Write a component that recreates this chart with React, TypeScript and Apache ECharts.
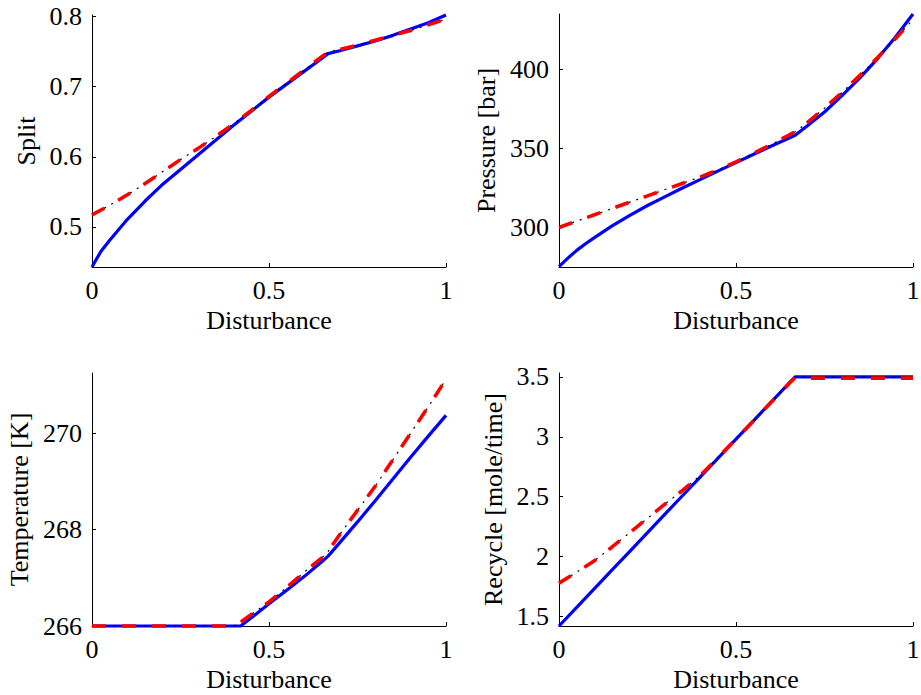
import React, { useEffect, useRef } from "react";
import * as echarts from "echarts";

// ---------- data ----------
const xAxisTicks = [0, 0.5, 1];

// Split
const splitX = [0, 0.01, 0.025, 0.05, 0.1, 0.15, 0.2, 0.25, 0.3, 0.35, 0.4, 0.45, 0.5, 0.55, 0.6, 0.65, 0.667, 0.7, 0.75, 0.8, 0.85, 0.9, 0.95, 1];
const splitBlue = [0.443, 0.452, 0.465, 0.481, 0.511, 0.537, 0.561, 0.582, 0.603, 0.624, 0.645, 0.665, 0.685, 0.7035, 0.722, 0.7405, 0.747, 0.751, 0.758, 0.765, 0.773, 0.782, 0.791, 0.802];
const splitRed = [0.517, 0.520, 0.524, 0.531, 0.546, 0.562, 0.579, 0.596, 0.612, 0.629, 0.647, 0.666, 0.686, 0.705, 0.724, 0.743, 0.749, 0.753, 0.759, 0.766, 0.773, 0.780, 0.788, 0.796];
const splitBlack = splitRed;
const splitTicks = [0.5, 0.6, 0.7, 0.8];

// Pressure
const presX = [0, 0.025, 0.05, 0.075, 0.1, 0.15, 0.2, 0.25, 0.3, 0.35, 0.4, 0.45, 0.5, 0.55, 0.6, 0.65, 0.667, 0.7, 0.75, 0.8, 0.85, 0.9, 0.95, 1];
const presBlue = [275.2, 280.6, 285.5, 289.7, 293.6, 301.0, 307.7, 313.9, 319.5, 325.1, 330.4, 335.8, 341.0, 346.3, 351.5, 356.6, 358.3, 364.0, 373.0, 383.5, 394.6, 406.8, 420.3, 435.0];
const presRed = [300.0, 302.0, 304.0, 306.0, 308.0, 312.0, 316.0, 320.0, 324.0, 328.0, 332.0, 336.5, 341.5, 347.0, 352.5, 358.5, 360.5, 366.0, 375.5, 385.5, 396.2, 407.5, 419.3, 431.5];
const presBlack = presRed;
const presTicks = [300, 350, 400];

// Temperature
const tempX = [0, 0.1, 0.2, 0.3, 0.4, 0.41, 0.42, 0.45, 0.5, 0.55, 0.6, 0.65, 0.667, 0.7, 0.75, 0.8, 0.85, 0.9, 0.95, 1];
const tempBlue = [266, 266, 266, 266, 266, 266, 266.0, 266.17, 266.46, 266.74, 267.03, 267.34, 267.45, 267.73, 268.16, 268.6, 269.05, 269.5, 269.94, 270.37];
const tempRed = [266, 266, 266, 266, 266, 266.03, 266.08, 266.24, 266.50, 266.80, 267.12, 267.42, 267.55, 267.9, 268.4, 268.9, 269.45, 270.0, 270.55, 271.12];
const tempBlack = tempRed;
const tempTicks = [266, 268, 270];

// Recycle
const recX = [0, 0.05, 0.1, 0.15, 0.2, 0.25, 0.3, 0.35, 0.4, 0.45, 0.5, 0.55, 0.6, 0.65, 0.667, 0.7, 0.8, 0.9, 1];
const recBlue = [1.42, 1.576, 1.732, 1.888, 2.044, 2.2, 2.356, 2.512, 2.668, 2.824, 2.98, 3.136, 3.292, 3.448, 3.5, 3.5, 3.5, 3.5, 3.5];
const recRed = [1.778, 1.87, 1.965, 2.08, 2.2, 2.32, 2.44, 2.555, 2.68, 2.83, 2.98, 3.135, 3.29, 3.445, 3.495, 3.49, 3.49, 3.49, 3.49];
const recBlack = [1.778, 1.87, 1.965, 2.08, 2.2, 2.32, 2.44, 2.555, 2.68, 2.83, 2.98, 3.135, 3.29, 3.445, 3.5, 3.5, 3.5, 3.5, 3.5];
const recTicks = [1.5, 2, 2.5, 3, 3.5];

const xTitle = "Disturbance";
const yTitles = ["Split", "Pressure [bar]", "Temperature [K]", "Recycle [mole/time]"];

// ---------- chart ----------
const FONT = "'Liberation Serif', 'Times New Roman', serif";

const pairs = (xs: number[], ys: number[]) => xs.map((x, i) => [x, ys[i]]);

export default function App() {
  const ref = useRef<HTMLDivElement>(null);

  useEffect(() => {
    document.body.style.margin = "0";
    if (!ref.current) return;
    const chart = echarts.init(ref.current, null, { renderer: "svg" });

    const grids = [
      { left: 92, top: 15, width: 354, height: 252 },
      { left: 559, top: 14, width: 354, height: 253 },
      { left: 92, top: 373, width: 354, height: 253 },
      { left: 559, top: 373, width: 354, height: 253 },
    ];
    const yRanges = [
      { min: 0.443, max: 0.802, ticks: splitTicks, gap: 53 },
      { min: 275.0, max: 435.0, ticks: presTicks, gap: 60 },
      { min: 266, max: 271.25, ticks: tempTicks, gap: 60 },
      { min: 1.42, max: 3.533, ticks: recTicks, gap: 53 },
    ];
    const plots = [
      { x: splitX, b: splitBlue, k: splitBlack, r: splitRed },
      { x: presX, b: presBlue, k: presBlack, r: presRed },
      { x: tempX, b: tempBlue, k: tempBlack, r: tempRed },
      { x: recX, b: recBlue, k: recBlack, r: recRed },
    ];

    const textStyle = { color: "#000", fontFamily: FONT, fontSize: 26 };

    const xAxes = grids.map((_, i) => ({
      type: "value",
      gridIndex: i,
      min: 0,
      max: 1,
      axisLine: { show: true, onZero: false, lineStyle: { color: "#000", width: 1 } },
      axisTick: { show: true, inside: true, length: 4, customValues: xAxisTicks, lineStyle: { color: "#000", width: 1 } },
      axisLabel: { customValues: xAxisTicks, margin: 10, ...textStyle },
      splitLine: { show: false },
      name: xTitle,
      nameLocation: "middle",
      nameGap: 40,
      nameTextStyle: textStyle,
    }));

    const yAxes = yRanges.map((r, i) => ({
      type: "value",
      gridIndex: i,
      min: r.min,
      max: r.max,
      axisLine: { show: true, onZero: false, lineStyle: { color: "#000", width: 1 } },
      axisTick: { show: true, inside: true, length: 4, customValues: r.ticks, lineStyle: { color: "#000", width: 1 } },
      axisLabel: { customValues: r.ticks, margin: 10, ...textStyle },
      splitLine: { show: false },
      name: yTitles[i],
      nameLocation: "middle",
      nameGap: r.gap,
      nameTextStyle: textStyle,
    }));

    const series: any[] = [];
    plots.forEach((p, i) => {
      series.push({
        type: "line",
        xAxisIndex: i,
        yAxisIndex: i,
        data: pairs(p.x, p.b),
        showSymbol: false,
        symbol: "none",
        clip: false,
        lineStyle: { color: "#0000ff", width: 3.2, type: "solid" },
      });
      series.push({
        type: "line",
        xAxisIndex: i,
        yAxisIndex: i,
        data: pairs(p.x, p.k),
        showSymbol: false,
        symbol: "none",
        clip: false,
        lineStyle: { color: "#000000", width: 1.2, type: [16, 6, 2, 6] },
      });
      series.push({
        type: "line",
        xAxisIndex: i,
        yAxisIndex: i,
        data: pairs(p.x, p.r),
        showSymbol: false,
        symbol: "none",
        clip: false,
        lineStyle: { color: "#ff0000", width: 3.6, type: [14, 16] },
      });
    });

    chart.setOption({
      animation: false,
      backgroundColor: "#ffffff",
      grid: grids.map((g) => ({ ...g, containLabel: false, outerBoundsMode: "none" })),
      xAxis: xAxes,
      yAxis: yAxes,
      series,
    });

    return () => chart.dispose();
  }, []);

  return <div ref={ref} style={{ width: 921, height: 695 }} />;
}
